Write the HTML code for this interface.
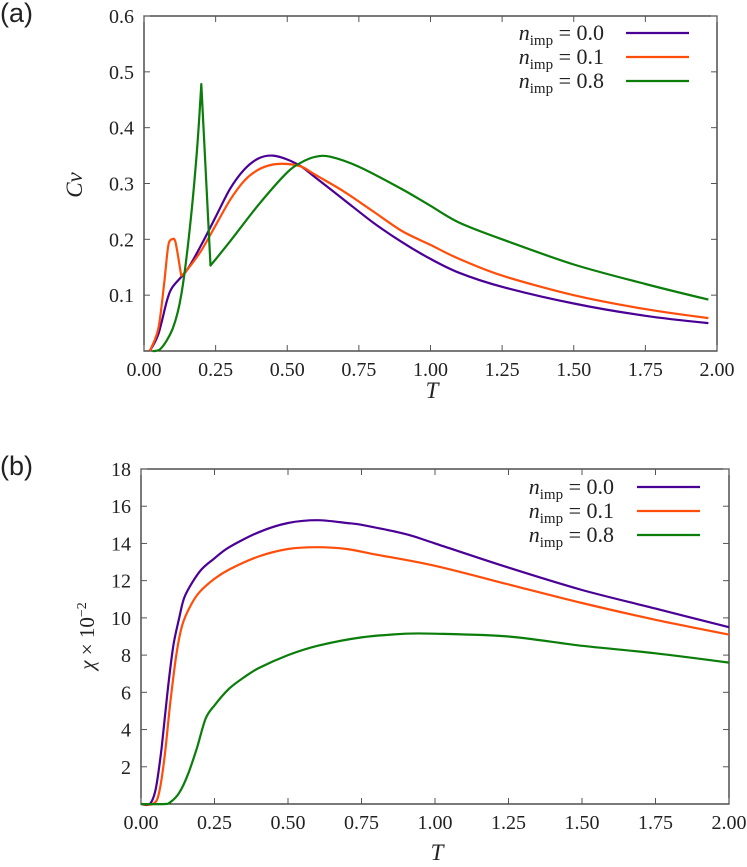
<!DOCTYPE html>
<html><head><meta charset="utf-8">
<style>
body{margin:0;background:#fff;}
svg{display:block;}
svg text{font-family:"Liberation Serif","DejaVu Serif",serif;}
svg text.sans{font-family:"Liberation Sans",sans-serif;}
.tk{font-size:20px;fill:#222;}
.lg{font-size:22px;fill:#222;}
</style></head>
<body>
<svg id="fig" width="747" height="867" viewBox="0 0 747 867">
<text class="sans" x="0" y="22" font-size="27" fill="#222">(a)</text>
<text class="sans" x="0" y="475" font-size="27" fill="#222">(b)</text>
<g id="pa"></g>
<g id="pb"></g>
</svg>
<script>
const xTicks=[0,0.25,0.5,0.75,1.0,1.25,1.5,1.75,2.0];
const xTickLabels=["0.00","0.25","0.50","0.75","1.00","1.25","1.50","1.75","2.00"];
const aYTicks=[0.1,0.2,0.3,0.4,0.5,0.6];
const aYTickLabels=["0.1","0.2","0.3","0.4","0.5","0.6"];
const bYTicks=[2,4,6,8,10,12,14,16,18];
const bYTickLabels=["2","4","6","8","10","12","14","16","18"];
const seriesNames=["0.0","0.1","0.8"];
const colors=["#4b0095","#ff4e0a","#0a7d0a"];
const aT0=[0.02,0.05,0.08,0.1,0.15,0.2,0.25,0.3,0.35,0.4,0.45,0.5,0.55,0.6,0.7,0.8,0.9,1.0,1.1,1.25,1.5,1.75,1.97];
const aV0=[0,0.03,0.09,0.115,0.145,0.19,0.24,0.29,0.325,0.345,0.35,0.343,0.33,0.31,0.27,0.23,0.195,0.165,0.14,0.115,0.085,0.063,0.05];
const aT1=[0.02,0.05,0.07,0.085,0.1,0.11,0.13,0.15,0.2,0.25,0.3,0.35,0.4,0.45,0.5,0.55,0.6,0.7,0.8,0.9,1.0,1.1,1.25,1.5,1.75,1.97];
const aV1=[0,0.04,0.12,0.19,0.2,0.195,0.135,0.145,0.18,0.225,0.27,0.305,0.325,0.334,0.335,0.33,0.315,0.285,0.25,0.215,0.19,0.165,0.135,0.1,0.075,0.059];
const aT2=[0.03,0.06,0.1,0.13,0.16,0.185,0.2,0.232,0.3,0.4,0.5,0.55,0.6,0.65,0.75,0.9,1.0,1.1,1.25,1.5,1.75,1.97];
const aV2=[0,0.005,0.04,0.1,0.22,0.36,0.478,0.153,0.196,0.262,0.32,0.338,0.348,0.348,0.33,0.29,0.26,0.23,0.2,0.155,0.12,0.092];
const bT0=[0,0.03,0.05,0.07,0.09,0.11,0.13,0.15,0.2,0.25,0.3,0.4,0.5,0.6,0.7,0.75,0.9,1.0,1.25,1.5,1.75,2.0];
const bV0=[0,0,0.8,3,6,8.5,10,11.2,12.5,13.2,13.8,14.6,15.1,15.25,15.1,15.0,14.5,14.0,12.7,11.5,10.5,9.5];
const bT1=[0,0.04,0.06,0.08,0.1,0.12,0.14,0.17,0.2,0.25,0.3,0.4,0.5,0.6,0.7,0.8,1.0,1.25,1.5,1.75,2.0];
const bV1=[0,0,0.5,2.5,5.5,8,9.6,10.7,11.4,12.1,12.6,13.3,13.7,13.8,13.7,13.4,12.8,11.8,10.8,9.9,9.1];
const bT2=[0,0.08,0.1,0.13,0.16,0.19,0.22,0.25,0.3,0.35,0.4,0.5,0.6,0.75,0.9,1.0,1.25,1.5,1.75,2.0];
const bV2=[0,0,0.1,0.6,1.6,3,4.6,5.3,6.2,6.8,7.3,8.0,8.5,8.95,9.15,9.15,9.0,8.5,8.1,7.6];

const NS="http://www.w3.org/2000/svg";
function mk(p,tag,at){const e=document.createElementNS(NS,tag);for(const k in at)e.setAttribute(k,at[k]);p.appendChild(e);return e;}
function corner(a,b,c){
  const d1=[b[0]-a[0],b[1]-a[1]],d2=[c[0]-b[0],c[1]-b[1]];
  const dot=d1[0]*d2[0]+d1[1]*d2[1],n=Math.hypot(...d1)*Math.hypot(...d2);
  return n>0 && dot/n<0.2;
}
function smooth(pts){
  const n=pts.length;
  const tan=pts.map((p,i)=>{
    if(i===0||i===n-1) return [0,0];
    if(corner(pts[i-1],p,pts[i+1])) return [0,0];
    return [(pts[i+1][0]-pts[i-1][0])*0.15,(pts[i+1][1]-pts[i-1][1])*0.15];
  });
  let d='M'+pts[0][0].toFixed(1)+','+pts[0][1].toFixed(1);
  for(let i=0;i<n-1;i++){
    const p1=pts[i],p2=pts[i+1];
    d+='C'+(p1[0]+tan[i][0]).toFixed(1)+','+(p1[1]+tan[i][1]).toFixed(1)+' '+(p2[0]-tan[i+1][0]).toFixed(1)+','+(p2[1]-tan[i+1][1]).toFixed(1)+' '+p2[0].toFixed(1)+','+p2[1].toFixed(1);
  }
  return d;
}

function panel(g,box,ymax,yTicks,yLabels,series,legendBox,prefix){
  const X=t=>box.l+t/2*(box.r-box.l);
  const Y=v=>box.b-v/ymax*(box.b-box.t);
  const fr=mk(g,'rect',{x:box.l,y:box.t,width:box.r-box.l,height:box.b-box.t,fill:'none',stroke:'#222','stroke-width':1.2});
  
  
  xTicks.forEach((t,i)=>{
    mk(g,'line',{x1:X(t),x2:X(t),y1:box.b,y2:box.b-6,stroke:'#555'});
    mk(g,'line',{x1:X(t),x2:X(t),y1:box.t,y2:box.t+6,stroke:'#555'});
    const tx=mk(g,'text',{x:X(t),y:box.b+25,'text-anchor':'middle',class:'tk'});
    tx.textContent=xTickLabels[i];
    
    
  });
  yTicks.forEach((v,i)=>{
    mk(g,'line',{x1:box.l,x2:box.l+6,y1:Y(v),y2:Y(v),stroke:'#555'});
    mk(g,'line',{x1:box.r,x2:box.r-6,y1:Y(v),y2:Y(v),stroke:'#555'});
    const tx=mk(g,'text',{x:box.l-10,y:Y(v)+7,'text-anchor':'end',class:'tk'});
    tx.textContent=yLabels[i];
    
    
  });
  series.forEach((s,k)=>{
    const pts=s[0].map((t,i)=>[X(t),Y(s[1][i])]);
    const p=mk(g,'path',{d:smooth(pts),fill:'none',stroke:colors[k],'stroke-width':2.2,'stroke-linejoin':'round'});
    
    
    const ly=legendBox.y+k*24;
    const ll=mk(g,'line',{x1:legendBox.x1,x2:legendBox.x2,y1:ly,y2:ly,stroke:colors[k],'stroke-width':2.2});
    
    
    const lt=mk(g,'text',{x:legendBox.tx,y:ly+7,'text-anchor':'end',class:'lg'});
    lt.innerHTML='<tspan font-style="italic">n</tspan><tspan font-size="15" dy="5">imp</tspan><tspan dy="-5"> = '+seriesNames[k]+'</tspan>';
    
    
  });
}
panel(document.getElementById('pa'),{l:144,r:717,t:16,b:351},0.6,aYTicks,aYTickLabels,
  [[aT0,aV0],[aT1,aV1],[aT2,aV2]],{x1:626,x2:689,y:33,tx:604},'panel-a');
panel(document.getElementById('pb'),{l:141,r:729,t:469,b:804},18,bYTicks,bYTickLabels,
  [[bT0,bV0],[bT1,bV1],[bT2,bV2]],{x1:637,x2:700,y:487,tx:614},'panel-b');

const svg=document.getElementById('fig');
let t=mk(svg,'text',{x:0,y:0,transform:'translate(82,185) rotate(-90)','text-anchor':'middle','font-size':23,'font-style':'italic',fill:'#222'});
t.textContent='Cv';


t=mk(svg,'text',{x:0,y:0,transform:'translate(94,636) rotate(-90)','text-anchor':'middle','font-size':21,fill:'#222'});
t.innerHTML='<tspan font-style="italic">χ</tspan> × 10<tspan font-size="14" dy="-8">−2</tspan>';


t=mk(svg,'text',{x:432,y:398,'text-anchor':'middle','font-size':23,'font-style':'italic',fill:'#222'});
t.textContent='T';


t=mk(svg,'text',{x:437,y:860,'text-anchor':'middle','font-size':23,'font-style':'italic',fill:'#222'});
t.textContent='T';


</script>
</body></html>
